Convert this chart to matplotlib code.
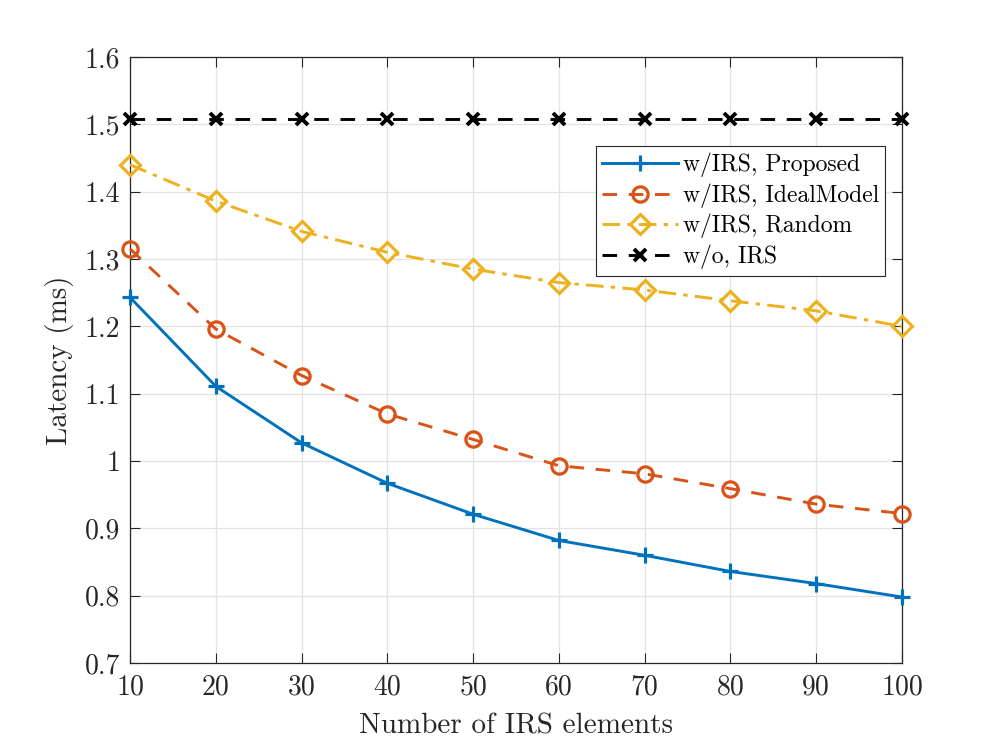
import numpy as np
import matplotlib.pyplot as plt

# cmr10 vem junto com o matplotlib (Computer Modern, como no LaTeX)
plt.rcParams['font.family'] = ['cmr10', 'DejaVu Serif']
plt.rcParams['mathtext.fontset'] = 'cm'

# Número de elementos do IRS
n_elem = [10, 20, 30, 40, 50, 60, 70, 80, 90, 100]

# Latência (ms) de cada esquema
proposto = [1.243, 1.111, 1.027, 0.967, 0.921, 0.882, 0.860, 0.836, 0.818, 0.798]
ideal = [1.315, 1.196, 1.127, 1.070, 1.032, 0.993, 0.981, 0.959, 0.936, 0.922]
aleatorio = [1.440, 1.386, 1.341, 1.310, 1.285, 1.265, 1.254, 1.238, 1.223, 1.200]
sem_irs = [1.508] * 10

y_ticks = [0.7, 0.8, 0.9, 1.0, 1.1, 1.2, 1.3, 1.4, 1.5, 1.6]
y_rotulos = ['0.7', '0.8', '0.9', '1', '1.1', '1.2', '1.3', '1.4', '1.5', '1.6']

fig = plt.figure(figsize=(9.97, 7.47), dpi=100)
ax = fig.add_axes([0.1304, 0.1124, 0.7743, 0.8113])

ax.plot(n_elem, proposto, '-', color='#0072BD', lw=2.1, marker='+', ms=12, mew=2.3,
        label='w/IRS, Proposed', clip_on=False, zorder=3)
ax.plot(n_elem, ideal, '--', color='#D95319', lw=2.1, marker='o', ms=11, mew=2.3,
        mfc='none', label='w/IRS, IdealModel', dashes=(5, 4),
        clip_on=False, zorder=3)
ax.plot(n_elem, aleatorio, '-.', color='#EDB120', lw=2.1, marker='D', ms=10, mew=2.3,
        mfc='none', label='w/IRS, Random', dashes=(6, 2.5, 1.5, 2.5),
        clip_on=False, zorder=3)
ax.plot(n_elem, sem_irs, '--', color='black', lw=2.1, marker='x', ms=8, mew=2.8,
        label='w/o, IRS', dashes=(5, 4), clip_on=False, zorder=3)

ax.set_xlim(10, 100)
ax.set_ylim(0.7, 1.6)
ax.set_xticks(n_elem)
ax.set_xticklabels([str(v) for v in n_elem])
ax.set_yticks(y_ticks)
ax.set_yticklabels(y_rotulos)
ax.tick_params(direction='in', top=True, right=True, labelsize=20, length=7,
               width=0.8, color='#262626', labelcolor='#262626')
ax.tick_params(axis='x', pad=8)
ax.tick_params(axis='y', pad=7)
ax.grid(True, color='#E3E3E3', lw=0.9)
ax.set_axisbelow(True)
for s in ax.spines.values():
    s.set_linewidth(0.9)
    s.set_color('#262626')

ax.set_xlabel('Number of IRS elements', fontsize=21, color='#262626', labelpad=9)
ax.set_ylabel('Latency (ms)', fontsize=21, color='#262626', labelpad=8)

leg = ax.legend(loc='upper right', bbox_to_anchor=(0.9785, 0.853), fontsize=17,
                fancybox=False, edgecolor='#262626', framealpha=1,
                borderpad=0.28, labelspacing=0.26, handlelength=3.2,
                handletextpad=0.2, borderaxespad=0)
leg.get_frame().set_linewidth(0.8)

plt.savefig('out.png', dpi=100)
